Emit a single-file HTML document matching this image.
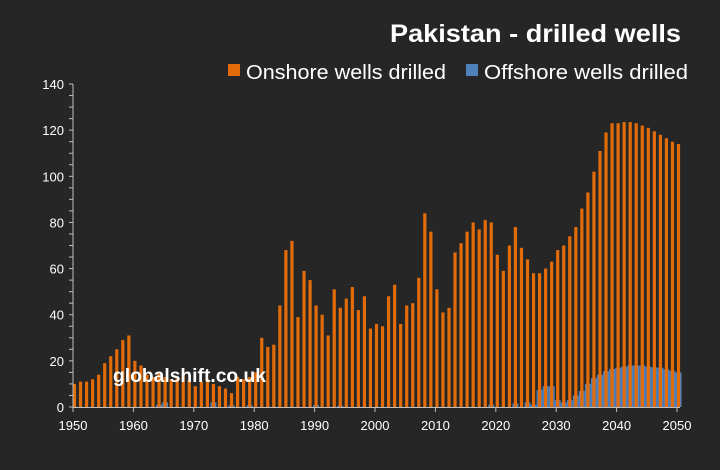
<!DOCTYPE html>
<html><head><meta charset="utf-8"><style>
body{margin:0;background:#262626;}
svg{display:block;font-family:"Liberation Sans",sans-serif;}
</style></head><body>
<svg id="c" width="720" height="470" xmlns="http://www.w3.org/2000/svg">
<rect width="720" height="470" fill="#262626"/>
<text x="681" y="42" text-anchor="end" fill="#fff" font-size="25" font-weight="bold" textLength="291" lengthAdjust="spacingAndGlyphs">Pakistan - drilled wells</text>
<rect x="228" y="64" width="12" height="12" fill="#e36c0a"/>
<text x="246" y="79" fill="#fff" font-size="20" textLength="200" lengthAdjust="spacingAndGlyphs">Onshore wells drilled</text>
<rect x="466" y="64" width="12" height="12" fill="#4f81bd"/>
<text x="484" y="79" fill="#fff" font-size="20" textLength="204" lengthAdjust="spacingAndGlyphs">Offshore wells drilled</text>
<g id="bars"></g>
<g id="axes" stroke="#bfbfbf" stroke-width="1"></g>
<g id="labels" fill="#fff" font-size="13"></g>
<text x="113" y="382" fill="#fff" font-size="19" font-weight="bold" textLength="153" lengthAdjust="spacingAndGlyphs">globalshift.co.uk</text>
</svg>
<script>
var on=[10,11,11,12,14,19,22,25,29,31,20,18,14,13,15,13,12,13,15,12,9,11,12,10,9,8,6,13,12,13,15,30,26,27,44,68,72,39,59,55,44,40,31,51,43,47,52,42,48,34,36,35,48,53,36,44,45,56,84,76,51,41,43,67,71,76,80,77,81,80,66,59,70,78,69,64,58,58,60,63,68,70,74,78,86,93,102,111,119,123,123,123.5,123.5,123,122,121,119.5,118,116.5,115,114];
var off={};
[[1964,1],[1965,2],[1973,2],[1976,0.8],[1979,0.8],[1990,0.8],[1994,0.6],[2019,1],[2023,1.5],[2025,2],[2026,1],[2027,7.4],[2028,9],[2029,9],[2030,3],[2031,2],[2032,3],[2033,5],[2034,7],[2035,10],[2036,12.5],[2037,14],[2038,15.5],[2039,16.5],[2040,17],[2041,17.5],[2042,18],[2043,18],[2044,18],[2045,17.5],[2046,17.2],[2047,17],[2048,16.3],[2049,15.7],[2050,15]].forEach(function(p){off[p[0]]=p[1];});
var ns="http://www.w3.org/2000/svg",x0=74.5,dx=6.04,y0=407,k=2.307;
function el(t,a,parent){var e=document.createElementNS(ns,t);for(var i in a)e.setAttribute(i,a[i]);parent.appendChild(e);return e;}
var g=document.getElementById('bars'),ax=document.getElementById('axes'),lb=document.getElementById('labels');
for(var i=0;i<=100;i++){var yr=1950+i,cx=x0+i*dx;
 if(off[yr]){var h=off[yr]*k;el('rect',{x:cx-3,y:y0-h,width:6,height:h,fill:'#4f81bd'},g);}
 var h2=on[i]*k;el('rect',{x:cx-1.6,y:y0-h2,width:3.2,height:h2,fill:'#e36c0a'},g);
}
el('line',{x1:73,y1:84,x2:73,y2:407.5},ax);
el('line',{x1:73,y1:407.5,x2:680,y2:407.5},ax);
for(var v=0;v<=140;v+=5){var y=y0-v*k;el('line',{x1:69,y1:y,x2:73,y2:y},ax);
 if(v%20==0){var t=el('text',{x:64,y:y+5,'text-anchor':'end'},lb);t.textContent=v;}}
for(var yr=1950;yr<=2050;yr+=10){var x=73+(yr-1950)*dx;el('line',{x1:x,y1:407,x2:x,y2:412},ax);
 var t=el('text',{x:x,y:430,'text-anchor':'middle'},lb);t.textContent=yr;}
</script>
</body></html>
